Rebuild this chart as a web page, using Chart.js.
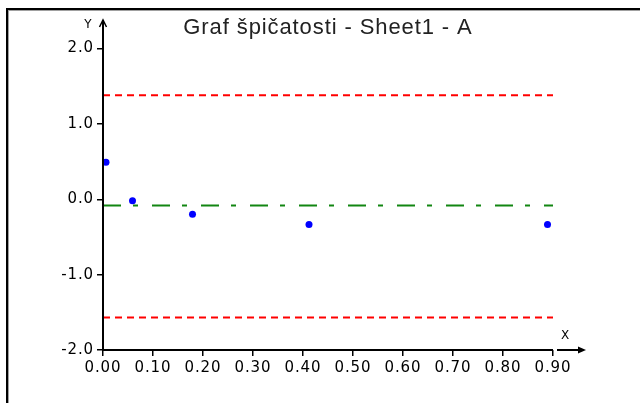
<!DOCTYPE html>
<html>
<head>
<meta charset="utf-8">
<script src="https://cdn.jsdelivr.net/npm/chart.js@4/dist/chart.umd.min.js"></script>
<style>
  html, body { margin: 0; padding: 0; background: #fff; }
  #wrap { width: 640px; height: 403px; }
</style>
</head>
<body>
<div id="wrap"><canvas id="chart" width="640" height="403"></canvas></div>
<script>
// measured points
const xValues = [0.006, 0.059, 0.179, 0.412, 0.889];
const yValues = [0.49, -0.02, -0.20, -0.335, -0.335];

// reference lines
const lineX = [0, 0.9];
const upperLimit = [1.38, 1.38];
const lowerLimit = [-1.57, -1.57];
const centerLine = [-0.084, -0.084];

const xTicks = [0, 0.1, 0.2, 0.3, 0.4, 0.5, 0.6, 0.7, 0.8, 0.9];
const yTicks = [-2, -1, 0, 1, 2];

const titleText = 'Graf špičatosti - Sheet1 - A';

function toPoints(xs, ys) {
    return xs.map((x, i) => ({ x: x, y: ys[i] }));
}

// old bitmap font look: text is spaced out a bit
const spacing = {
    id: 'spacing',
    beforeLayout(chart) { chart.ctx.letterSpacing = '0.9px'; },
    beforeDraw(chart) { chart.ctx.letterSpacing = '0.9px'; }
};

// frame + hand drawn axes with arrows
const decorations = {
    id: 'decorations',
    beforeDraw(chart) {
        const ctx = chart.ctx;
        ctx.save();
        ctx.fillStyle = '#fff';
        ctx.fillRect(0, 0, chart.width, chart.height);
        ctx.fillStyle = '#000';
        ctx.fillRect(6, 8, chart.width - 6, 2);
        ctx.fillRect(6, 8, 2, chart.height - 8);
        ctx.fillStyle = '#a0a0a0';
        ctx.fillRect(8, 10, chart.width - 8, 1);
        ctx.fillRect(8, 10, 1, chart.height - 10);
        ctx.restore();
    },
    afterDraw(chart) {
        const ctx = chart.ctx;
        const x0 = chart.scales.x.getPixelForValue(0);
        const x9 = chart.scales.x.getPixelForValue(0.9);
        const yb = chart.scales.y.getPixelForValue(-2);
        ctx.save();
        ctx.strokeStyle = '#000';
        ctx.fillStyle = '#000';
        ctx.lineWidth = 2;
        // y axis
        ctx.beginPath();
        ctx.moveTo(x0, yb + 1);
        ctx.lineTo(x0, 20);
        ctx.stroke();
        ctx.lineWidth = 1.5;
        ctx.beginPath();
        ctx.moveTo(x0 - 3.5, 27);
        ctx.lineTo(x0, 20);
        ctx.lineTo(x0 + 3.5, 27);
        ctx.stroke();
        // x axis
        ctx.lineWidth = 2;
        ctx.beginPath();
        ctx.moveTo(x0, yb);
        ctx.lineTo(x9, yb);
        ctx.stroke();
        ctx.beginPath();
        ctx.moveTo(x9 + 4, yb);
        ctx.lineTo(x9 + 28, yb);
        ctx.stroke();
        ctx.beginPath();
        ctx.moveTo(x9 + 33, yb);
        ctx.lineTo(x9 + 25, yb - 3.5);
        ctx.lineTo(x9 + 25, yb + 3.5);
        ctx.closePath();
        ctx.fill();
        // axis letters
        ctx.letterSpacing = '0px';
        ctx.font = '12px "DejaVu Sans"';
        ctx.textAlign = 'center';
        ctx.textBaseline = 'middle';
        ctx.fillText('Y', x0 - 15, 25);
        ctx.fillText('X', x9 + 12, yb - 14);
        ctx.restore();
    }
};

const ctx = document.getElementById('chart').getContext('2d');

new Chart(ctx, {
    type: 'scatter',
    data: {
        datasets: [
            {
                label: 'data',
                data: toPoints(xValues, yValues),
                backgroundColor: '#0000ff',
                borderWidth: 0,
                pointRadius: 3.5,
                pointHoverRadius: 3.5
            },
            {
                label: 'upper',
                type: 'line',
                data: toPoints(lineX, upperLimit),
                borderColor: '#ff0000',
                borderWidth: 2,
                borderDash: [7, 5],
                pointRadius: 0,
                fill: false
            },
            {
                label: 'lower',
                type: 'line',
                data: toPoints(lineX, lowerLimit),
                borderColor: '#ff0000',
                borderWidth: 2,
                borderDash: [7, 5],
                pointRadius: 0,
                fill: false
            },
            {
                label: 'center',
                type: 'line',
                data: toPoints(lineX, centerLine),
                borderColor: '#128612',
                borderWidth: 2,
                borderDash: [18, 12, 5, 14],
                pointRadius: 0,
                fill: false
            }
        ]
    },
    options: {
        responsive: false,
        animation: false,
        events: [],
        layout: { padding: { left: 0, right: 87, top: 0, bottom: 0 } },
        plugins: {
            legend: { display: false },
            tooltip: { enabled: false },
            title: {
                display: true,
                text: titleText,
                fullSize: false,
                color: '#222',
                font: { family: '"Liberation Sans", Arial, sans-serif', size: 22, weight: 'normal', lineHeight: 1.2 },
                padding: { top: 14.3, bottom: 7.8 }
            }
        },
        scales: {
            x: {
                type: 'linear',
                min: 0,
                max: 0.9,
                afterFit(scale) { scale.height = 53; },
                afterBuildTicks(scale) { scale.ticks = xTicks.map(v => ({ value: v })); },
                border: { display: false },
                grid: { drawOnChartArea: false, drawTicks: true, tickLength: 6, tickColor: '#000', lineWidth: 1.5 },
                ticks: {
                    color: '#000',
                    padding: 3,
                    maxRotation: 0,
                    autoSkip: false,
                    font: { family: '"DejaVu Sans", sans-serif', size: 15 },
                    callback: v => Number(v).toFixed(2)
                }
            },
            y: {
                type: 'linear',
                min: -2,
                max: 2,
                afterFit(scale) { scale.width = 103; },
                afterBuildTicks(scale) { scale.ticks = yTicks.map(v => ({ value: v })); },
                border: { display: false },
                grid: { drawOnChartArea: false, drawTicks: true, tickLength: 6, tickColor: '#000', lineWidth: 1.5 },
                ticks: {
                    color: '#000',
                    padding: 3,
                    autoSkip: false,
                    font: { family: '"DejaVu Sans", sans-serif', size: 15 },
                    callback: v => Number(v).toFixed(1)
                }
            }
        }
    },
    plugins: [spacing, decorations]
});
</script>
</body>
</html>
